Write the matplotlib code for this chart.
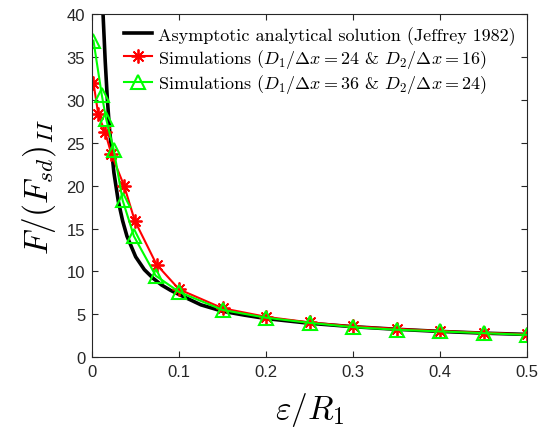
#!/usr/bin/env python3
"""Force ratio vs gap: asymptotic solution vs two simulation resolutions."""
import numpy as np
import matplotlib
matplotlib.use('Agg')
import matplotlib.pyplot as plt

plt.rcParams['mathtext.fontset'] = 'cm'
plt.rcParams['font.family'] = ['Liberation Sans', 'DejaVu Sans']

# asymptotic analytical solution
x_jeff = [0.011, 0.0125, 0.015, 0.0175, 0.02, 0.025, 0.03, 0.035, 0.04, 0.05,
          0.06, 0.07, 0.08, 0.09, 0.1, 0.125, 0.15, 0.175, 0.2, 0.25, 0.3,
          0.35, 0.4, 0.45, 0.5]
y_jeff = [45.0, 40.0, 34.5, 30.0, 26.5, 21.5, 18.2, 15.9, 14.1, 11.7,
          10.2, 9.2, 8.4, 7.8, 7.3, 6.1, 5.35, 4.9, 4.5, 3.95, 3.55,
          3.25, 3.0, 2.8, 2.65]

# simulations D1/dx=24, D2/dx=16
x_sim1 = [0.0015, 0.007, 0.015, 0.022, 0.037, 0.049, 0.074, 0.1, 0.15,
          0.2, 0.25, 0.3, 0.35, 0.4, 0.45, 0.5]
y_sim1 = [32.0, 28.3, 26.2, 23.7, 19.9, 15.9, 10.8, 7.9, 5.7,
          4.7, 4.05, 3.6, 3.3, 3.05, 2.85, 2.65]

# simulations D1/dx=36, D2/dx=24
x_sim2 = [0.0015, 0.011, 0.016, 0.025, 0.035, 0.048, 0.073, 0.1, 0.15,
          0.2, 0.25, 0.3, 0.35, 0.4, 0.45, 0.5]
y_sim2 = [36.9, 30.6, 27.8, 24.1, 18.3, 14.1, 9.5, 7.6, 5.5,
          4.6, 4.0, 3.5, 3.2, 3.0, 2.8, 2.6]

xticks = [0, 0.1, 0.2, 0.3, 0.4, 0.5]
xticklabels = ['0', '0.1', '0.2', '0.3', '0.4', '0.5']
yticks = [0, 5, 10, 15, 20, 25, 30, 35, 40]

lab_jeff = 'Asymptotic analytical solution (Jeffrey 1982)'
lab_sim1 = r'Simulations ($D_1/\Delta x=24$ & $D_2/\Delta x=16$)'
lab_sim2 = r'Simulations ($D_1/\Delta x=36$ & $D_2/\Delta x=24$)'

fig = plt.figure(figsize=(5.39, 4.31), dpi=100)
ax = fig.add_axes([0.171, 0.169, 0.807, 0.796])

ax.plot(x_jeff, y_jeff, color='black', lw=2.6, label=lab_jeff)
ax.plot(x_sim1, y_sim1, color='red', lw=1.5, marker=(8, 2, 0), ms=10, mew=1.3,
        label=lab_sim1)
ax.plot(x_sim2, y_sim2, color='#00ff00', lw=1.5, marker='^', ms=10, mew=1.5,
        mfc='none', label=lab_sim2)

ax.set_xlim(0, 0.5)
ax.set_ylim(0, 40)
ax.set_xticks(xticks)
ax.set_xticklabels(xticklabels)
ax.set_yticks(yticks)
ax.tick_params(direction='in', top=True, right=True, length=4, width=0.8,
               labelsize=12, colors='#262626', labelcolor='#262626', pad=5)
for s in ax.spines.values():
    s.set_color('#262626')
    s.set_linewidth(0.8)

ax.set_xlabel(r'$\varepsilon/R_1$', fontsize=24, labelpad=8)
ax.set_ylabel(r'$F/(F_{sd})_{II}$', fontsize=24, labelpad=6)

ax.legend(loc='upper right', frameon=False, handlelength=1.55,
          prop={'family': 'cmr10', 'size': 13},
          handletextpad=0.3, borderaxespad=0.25, labelspacing=0.12)

fig.savefig('out.png', dpi=100)
